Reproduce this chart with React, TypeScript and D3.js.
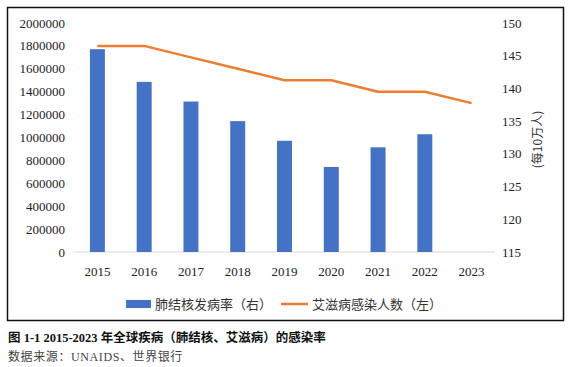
import { useRef, useEffect } from 'react';
import * as d3 from 'd3';

const years = ['2015', '2016', '2017', '2018', '2019', '2020', '2021', '2022', '2023'];
// 肺结核发病率 (per 100k, right axis)
const tbRate = [146, 141, 138, 135, 132, 128, 131, 133, null];
// 艾滋病感染人数 (left axis)
const hivCases = [1800000, 1800000, 1700000, 1600000, 1500000, 1500000, 1400000, 1400000, 1300000];
const leftTicks = [0, 200000, 400000, 600000, 800000, 1000000, 1200000, 1400000, 1600000, 1800000, 2000000];
const rightTicks = [115, 120, 125, 130, 135, 140, 145, 150];

const W = 571;
const H = 367;
const serif = '"Liberation Serif", "DejaVu Serif", serif';
const cjk = '"Noto Sans CJK SC", sans-serif';

export default function App() {
    const svgRef = useRef<SVGSVGElement>(null);

    useEffect(() => {
        if (!svgRef.current) return;
        const svg = d3.select(svgRef.current);
        svg.selectAll('*').remove();

        const plot = { left: 74, right: 495, top: 23, bottom: 252 };

        const x = d3.scaleBand<string>()
            .domain(years)
            .range([plot.left, plot.right])
            .paddingInner(0.68)
            .paddingOuter(0.34);

        const yLeft = d3.scaleLinear().domain([0, 2000000]).range([plot.bottom, plot.top]);
        const yRight = d3.scaleLinear().domain([115, 150]).range([plot.bottom, plot.top]);

        svg.append('rect')
            .attr('width', W).attr('height', H).attr('fill', '#fff');

        // outer frame
        svg.append('rect')
            .attr('x', 7.5).attr('y', 7.5)
            .attr('width', 556).attr('height', 313)
            .attr('fill', 'none')
            .attr('stroke', '#111')
            .attr('stroke-width', 1.5);

        // baseline
        svg.append('line')
            .attr('x1', plot.left).attr('x2', plot.right)
            .attr('y1', plot.bottom).attr('y2', plot.bottom)
            .attr('stroke', '#d9d9d9')
            .attr('stroke-width', 1);

        // left ticks
        svg.append('g').selectAll('text')
            .data(leftTicks)
            .join('text')
            .attr('x', 65)
            .attr('y', d => yLeft(d))
            .attr('dy', '0.35em')
            .attr('text-anchor', 'end')
            .attr('font-family', serif)
            .attr('font-size', 13)
            .attr('fill', '#222')
            .text(d => String(d));

        // right ticks
        svg.append('g').selectAll('text')
            .data(rightTicks)
            .join('text')
            .attr('x', 502)
            .attr('y', d => yRight(d))
            .attr('dy', '0.35em')
            .attr('text-anchor', 'start')
            .attr('font-family', serif)
            .attr('font-size', 13)
            .attr('fill', '#222')
            .text(d => String(d));

        // right axis title
        svg.append('text')
            .attr('transform', `translate(538,${(plot.top + plot.bottom) / 2 + 2}) rotate(-90)`)
            .attr('text-anchor', 'middle')
            .attr('dy', '0.35em')
            .attr('font-family', cjk)
            .attr('font-size', 12)
            .attr('fill', '#333')
            .text('(每10万人)');

        // x labels
        svg.append('g').selectAll('text')
            .data(years)
            .join('text')
            .attr('x', d => (x(d) ?? 0) + x.bandwidth() / 2)
            .attr('y', 271)
            .attr('dy', '0.35em')
            .attr('text-anchor', 'middle')
            .attr('font-family', serif)
            .attr('font-size', 13)
            .attr('fill', '#222')
            .text(d => d);

        // bars
        svg.append('g').selectAll('rect')
            .data(years.map((y, i) => ({ y, v: tbRate[i] })).filter(d => d.v != null))
            .join('rect')
            .attr('x', d => x(d.y) ?? 0)
            .attr('width', x.bandwidth())
            .attr('y', d => yRight(d.v as number))
            .attr('height', d => plot.bottom - yRight(d.v as number))
            .attr('fill', '#4472C4');

        // line
        const line = d3.line<number>()
            .x((_, i) => (x(years[i]) ?? 0) + x.bandwidth() / 2)
            .y(d => yLeft(d));

        svg.append('path')
            .attr('d', line(hivCases))
            .attr('fill', 'none')
            .attr('stroke', '#ED7D31')
            .attr('stroke-width', 2.5)
            .attr('stroke-linejoin', 'round');

        // legend
        const legendY = 304;
        svg.append('rect')
            .attr('x', 126).attr('y', legendY - 4)
            .attr('width', 25).attr('height', 8)
            .attr('fill', '#4472C4');
        svg.append('text')
            .attr('x', 155).attr('y', legendY)
            .attr('dy', '0.35em')
            .attr('font-family', cjk)
            .attr('font-size', 13)
            .attr('fill', '#333')
            .text('肺结核发病率（右）');
        svg.append('line')
            .attr('x1', 281).attr('x2', 308)
            .attr('y1', legendY).attr('y2', legendY)
            .attr('stroke', '#ED7D31')
            .attr('stroke-width', 2.5);
        svg.append('text')
            .attr('x', 312).attr('y', legendY)
            .attr('dy', '0.35em')
            .attr('font-family', cjk)
            .attr('font-size', 13)
            .attr('fill', '#333')
            .text('艾滋病感染人数（左）');

        // caption
        svg.append('text')
            .attr('x', 8).attr('y', 338)
            .attr('dy', '0.35em')
            .attr('font-family', serif + ', ' + cjk)
            .attr('font-size', 12.5)
            .attr('font-weight', 'bold')
            .attr('fill', '#111')
            .text('图 1-1 2015-2023 年全球疾病（肺结核、艾滋病）的感染率');

        svg.append('text')
            .attr('x', 8).attr('y', 357)
            .attr('dy', '0.35em')
            .attr('font-family', serif + ', ' + cjk)
            .attr('font-size', 12)
            .attr('fill', '#444')
            .attr('letter-spacing', 0.6)
            .text('数据来源：UNAIDS、世界银行');
    }, []);

    return (
        <svg
            ref={svgRef}
            width={W}
            height={H}
            style={{ position: 'absolute', left: 0, top: 0, display: 'block' }}
        />
    );
}
